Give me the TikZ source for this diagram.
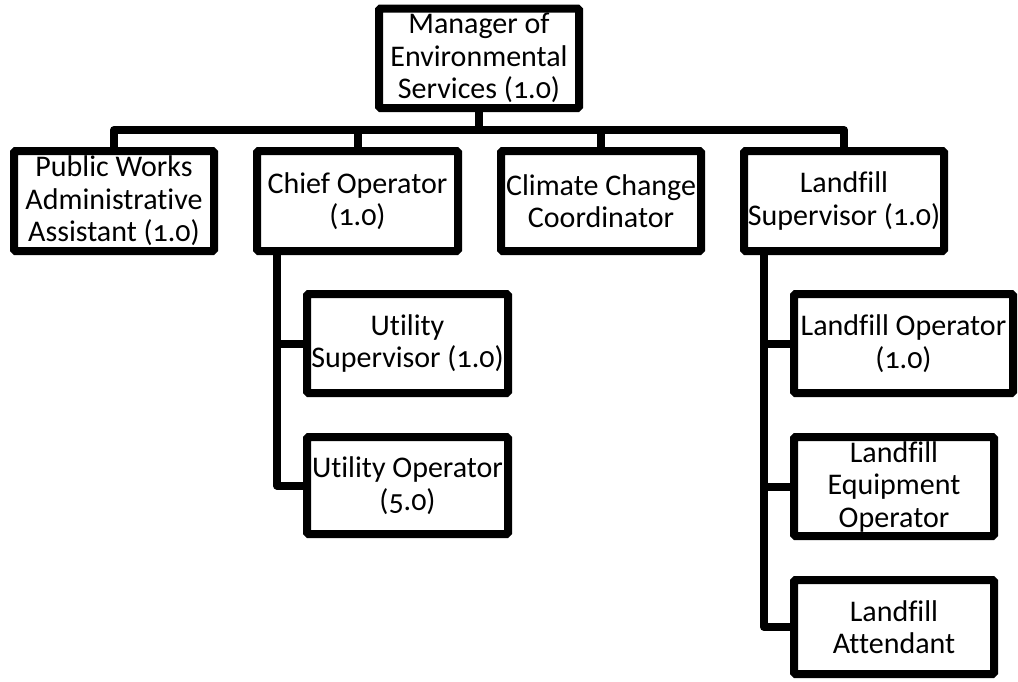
\documentclass[tikz,border=0pt]{standalone}
\usepackage{fontspec}
\setmainfont{Carlito}[Numbers=OldStyle,Ligatures=NoCommon]
\begin{document}
\begin{tikzpicture}[x=1pt,y=-1pt,
  box/.style={draw=black,line width=8pt,rounded corners=1.5pt,inner sep=0pt,minimum width=200pt,minimum height=100pt},
  txt/.style={align=center,inner sep=0pt,font=\fontsize{30}{32.5}\selectfont},
  conn/.style={draw=black,line width=8pt,line join=round}]
\useasboundingbox (0,0) rectangle (1018,681);
\node[box,minimum height=99.5pt,label={[txt]center:Manager of\\Environmental\\Services (1.0)}] (mgr) at (479,58.25) {};
\node[box,label={[txt]center:Public Works\\Administrative\\Assistant (1.0)}] (pw) at (114,201) {};
\node[box,minimum width=201pt,label={[txt]center:Chief Operator\\(1.0)}] (chief) at (357.5,201) {};
\node[box,label={[txt]center:Climate Change\\Coordinator}] (clim) at (601,201) {};
\node[box,label={[txt]center:Landfill\\Supervisor (1.0)}] (lsup) at (844,201) {};
\node[box,minimum width=201pt,minimum height=99pt,label={[txt]center:Utility\\Supervisor (1.0)}] (usup) at (407.5,343.5) {};
\node[box,minimum width=201pt,minimum height=97pt,label={[txt]center:Utility Operator\\(5.0)}] (uop) at (407.5,485.5) {};
\node[box,minimum width=219pt,minimum height=99pt,label={[txt]center:Landfill Operator\\(1.0)}] (lop) at (903.5,343.5) {};
\node[box,minimum height=99pt,label={[txt]center:Landfill\\Equipment\\Operator}] (leq) at (894,486.5) {};
\node[box,minimum height=94pt,label={[txt]center:Landfill\\Attendant}] (latt) at (894,627) {};
\coordinate (bus) at (0,130);
\coordinate (cs) at (277,251);
\coordinate (ls) at (764,251);
\draw[conn] (mgr.south) -- (mgr.south|-bus);
\draw[conn] (pw.north) -- (pw.north|-bus) -- (lsup.north|-bus) -- (lsup.north);
\draw[conn] (chief.north) -- (chief.north|-bus);
\draw[conn] (clim.north) -- (clim.north|-bus);
\draw[conn] (cs) |- (uop.west);
\draw[conn] (cs|-usup.west) -- (usup.west);
\draw[conn] (ls) |- (latt.west);
\draw[conn] (ls|-lop.west) -- (lop.west);
\draw[conn] (ls|-leq.west) -- (leq.west);
\end{tikzpicture}
\end{document}
